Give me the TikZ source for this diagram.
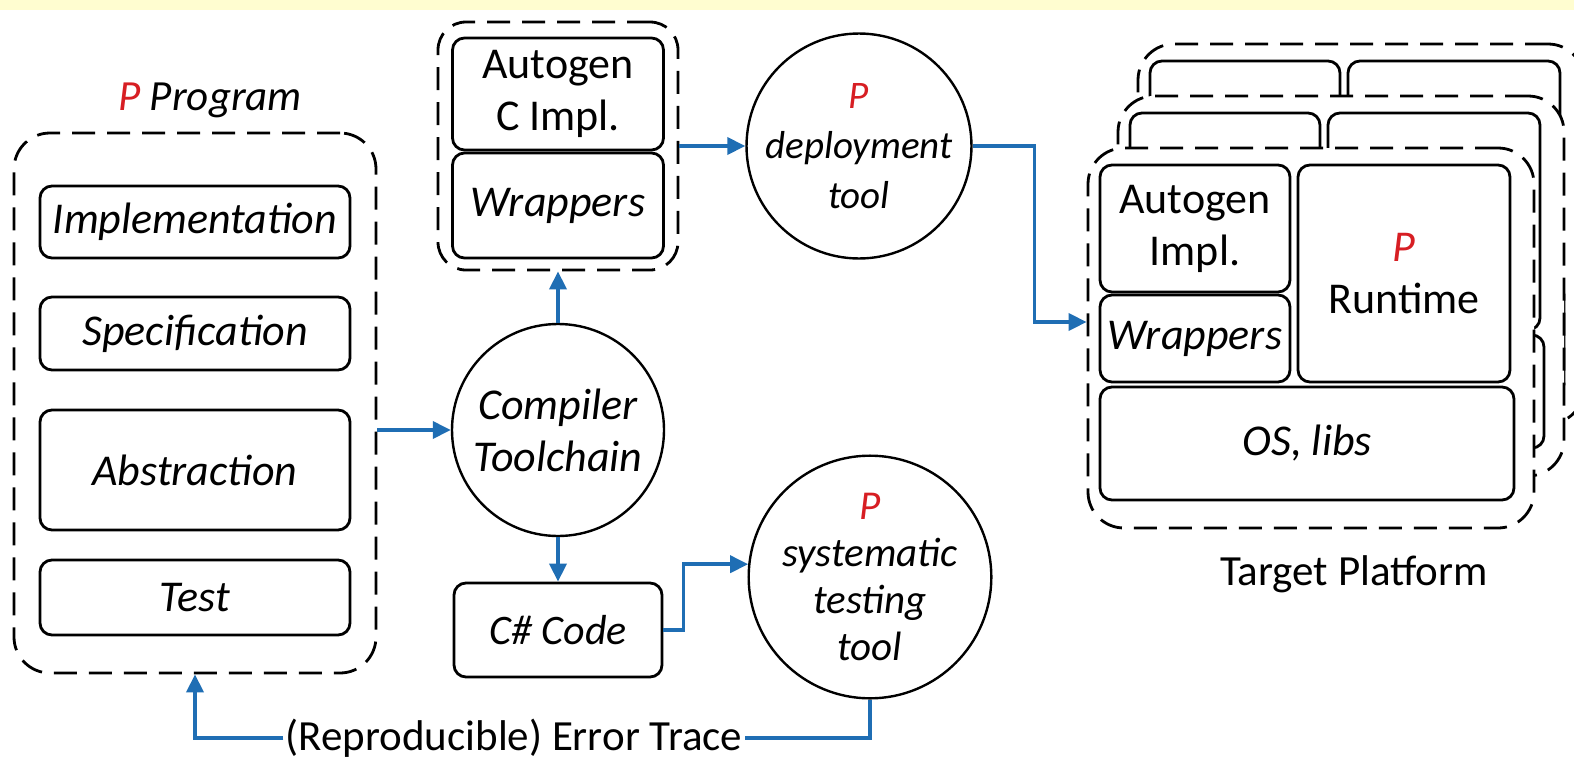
\documentclass[tikz,border=0pt]{standalone}
\usepackage{fontspec}
\setmainfont{Carlito}
\usetikzlibrary{arrows.meta}
\definecolor{arrblue}{RGB}{31,110,180}
\definecolor{pred}{RGB}{215,30,35}
\definecolor{topband}{RGB}{255,253,208}
\newcommand{\PPmark}{\textcolor{pred}{\itshape P}}
\newcommand{\platlayer}[3]{%
  \begin{scope}[shift={(#1,#2)}]
    \node[dbox, fill=white, minimum width=446pt, minimum height=380pt] (#3c) at (1311,338) {};
    \node[sbox, minimum width=190pt, minimum height=127pt] (#3a) at (1195,228.5) {};
    \node[sbox, minimum width=190pt, minimum height=87pt] (#3w) at (1195,338.5) {};
    \node[sbox, minimum width=212pt, minimum height=217pt] (#3r) at (1404,273.5) {};
    \node[sbox, minimum width=414pt, minimum height=113pt] (#3o) at (1307,443.5) {};
  \end{scope}}
\begin{document}
\begin{tikzpicture}[x=1pt,y=-1pt,
  every node/.style={font=\fontsize{44}{52}\selectfont, align=center, inner sep=0pt},
  sbox/.style={draw, line width=2.8pt, rounded corners=12pt, fill=white},
  dbox/.style={draw, line width=2.8pt, dash pattern=on 23pt off 12pt, rounded corners=36pt},
  circ/.style={draw, circle, line width=2.4pt, inner sep=0pt},
  lbl/.style={font=\fontsize{43}{50}\selectfont},
  ln/.style={draw=arrblue, line width=3.6pt},
  arr/.style={ln, -{Triangle[length=18pt,width=17pt]}},
]
\clip (0,0) rectangle (1574,763);
\fill[white] (0,0) rectangle (1574,763);
\fill[topband] (0,0) rectangle (1574,10);

% left container
\node[lbl] (plbl) at (210,100) {\PPmark\ \textit{Program}};
\node[dbox, minimum width=362pt, minimum height=540pt] (lc) at (195,403) {};
\node[sbox, minimum width=310pt, minimum height=72pt] (impl) at (195,222) {\textit{Implementation}};
\node[sbox, minimum width=310pt, minimum height=73pt] (spec) at (195,333.5) {\textit{Specification}};
\node[sbox, minimum width=310pt, minimum height=120pt] (abst) at (195,470) {\textit{Abstraction}};
\node[sbox, minimum width=310pt, minimum height=75pt] (test) at (195,597.5) {\textit{Test}};

% top container
\node[dbox, rounded corners=28pt, minimum width=240pt, minimum height=248pt] (tc) at (558,146) {};
\node[sbox, minimum width=211pt, minimum height=112pt] (aci) at (558,94) {Autogen\\C Impl.};
\node[sbox, minimum width=211pt, minimum height=105pt] (wr1) at (558,205.5) {\textit{Wrappers}};

% circles
\node[circ, minimum size=212pt] (comp) at (558,430) {\textit{Compiler}\\\textit{Toolchain}};
\node[circ, minimum size=220pt, font=\fontsize{39}{50}\selectfont] (dep) at (859,146) {\PPmark\\\textit{deployment}\\\textit{tool}};
\node[circ, minimum size=214pt, font=\fontsize{41}{47}\selectfont] (tst) at (870,577) {\PPmark\\\textit{systematic}\\\textit{testing}\\\textit{tool}};

% C# box
\node[sbox, minimum width=208pt, minimum height=94pt, font=\fontsize{42}{50}\selectfont] (cs) at (558,630) {\textit{C\# Code}};

% platform layers
\platlayer{50}{-104}{l3}
\platlayer{30}{-52}{l2}
\node[dbox, fill=white, minimum width=446pt, minimum height=380pt] (fc) at (1311,338) {};
\node[sbox, minimum width=190pt, minimum height=127pt] (fa) at (1195,228.5) {Autogen\\Impl.};
\node[sbox, minimum width=190pt, minimum height=87pt] (fw) at (1195,338.5) {\textit{Wrappers}};
\node[sbox, minimum width=212pt, minimum height=217pt] (fr) at (1404,273.5) {\PPmark\\Runtime};
\node[sbox, minimum width=414pt, minimum height=113pt] (fo) at (1307,443.5) {\textit{OS, libs}};
\node[lbl] (tplbl) at (1354,574) {Target Platform};

% error trace label
\node[lbl, inner xsep=2pt] (et) at (514,738) {(Reproducible) Error Trace};

% connectors
\draw[arr] (lc.east |- comp.west) -- (comp.west);
\draw[arr] (comp.north) -- (tc.south);
\draw[arr] (comp.south) -- (cs.north);
\draw[arr] (tc.east) -- (dep.west);
\draw[arr] (dep.east) -- ++(62,0) |- ([yshift=16pt]fc.west);
\draw[arr] (cs.east) -- ++(20,0) |- (tst.174);
\draw[ln] (tst.south) |- (et.east);
\draw[arr] (et.west) -| (lc.south);
\end{tikzpicture}
\end{document}
